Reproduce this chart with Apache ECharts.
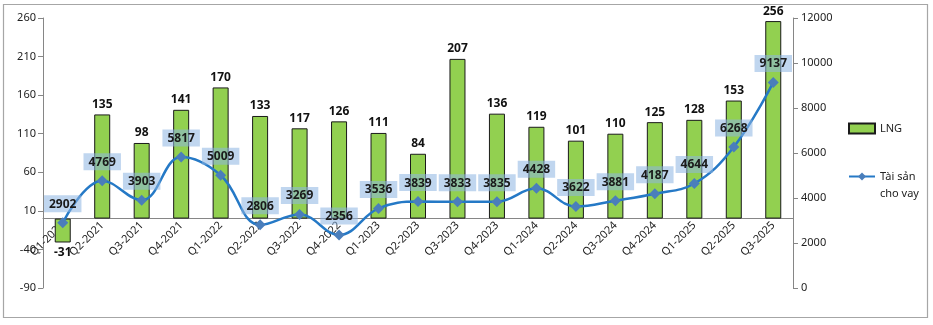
<!DOCTYPE html>
<html><head><meta charset="utf-8">
<script src="https://cdn.jsdelivr.net/npm/echarts@6/dist/echarts.min.js"></script>
<style>html,body{margin:0;padding:0;background:#fff}#c{width:933px;height:325px}</style>
</head><body><div id="c"></div>
<script>
const categories = ['Q1-2021','Q2-2021','Q3-2021','Q4-2021','Q1-2022','Q2-2022','Q3-2022','Q4-2022','Q1-2023','Q2-2023','Q3-2023','Q4-2023','Q1-2024','Q2-2024','Q3-2024','Q4-2024','Q1-2025','Q2-2025','Q3-2025'];
const lngValues = [-31,135,98,141,170,133,117,126,111,84,207,136,119,101,110,125,128,153,256];
const loanValues = [2902,4769,3903,5817,5009,2806,3269,2356,3536,3839,3833,3835,4428,3622,3881,4187,4644,6268,9137];
const leftTicks = {min:-90, max:260, interval:50};
const rightTicks = {min:0, max:12000, interval:2000};
const seriesNames = ['LNG','Tài sản cho vay'];

const FONT = 'Noto Sans';
const GRID = {left:43, right:140, top:18, bottom:37};
const gridH = 325 - GRID.top - GRID.bottom;
const zeroOffset = -gridH * (0 - leftTicks.min) / (leftTicks.max - leftTicks.min);

const chart = echarts.init(document.getElementById('c'), null, {renderer:'canvas'});
chart.setOption({
  animation:false,
  textStyle:{fontFamily:FONT},
  graphic:[{type:'rect', shape:{x:3.5,y:4.5,width:924,height:313}, style:{fill:'none',stroke:'#a6a6a6',lineWidth:1.2}, silent:true}],
  grid:GRID,
  legend:{
    orient:'vertical', left:848, top:120, padding:0, itemGap:14, itemWidth:26, itemHeight:10,
    textStyle:{fontFamily:FONT, fontSize:11, color:'#222', lineHeight:17},
    formatter:n => n === 'Tài sản cho vay' ? ' \nTài sản\ncho vay' : n,
    data:[{name:seriesNames[0], icon:'rect'}, {name:seriesNames[1]}]
  },
  xAxis:{
    type:'category', data:categories, offset:zeroOffset,
    axisLine:{onZero:false, lineStyle:{color:'#868686', width:1}},
    axisTick:{show:false},
    axisLabel:{rotate:45, interval:0, fontFamily:FONT, fontSize:11, color:'#222', margin:5}
  },
  yAxis:[
    {type:'value', min:leftTicks.min, max:leftTicks.max, interval:leftTicks.interval,
     splitLine:{show:false},
     axisLine:{show:true, lineStyle:{color:'#868686'}},
     axisTick:{show:true, length:5, lineStyle:{color:'#868686'}},
     axisLabel:{fontFamily:FONT, fontSize:11, color:'#222', margin:7}},
    {type:'value', min:rightTicks.min, max:rightTicks.max, interval:rightTicks.interval,
     position:'right', splitLine:{show:false},
     axisLine:{show:true, lineStyle:{color:'#868686'}},
     axisTick:{show:true, length:5, lineStyle:{color:'#868686'}},
     axisLabel:{fontFamily:FONT, fontSize:11, color:'#222', margin:8, formatter:v => String(v)}}
  ],
  series:[
    {name:seriesNames[0], type:'bar', yAxisIndex:0, barWidth:16,
     data:lngValues.map(v => ({value:v, label:{position: v < 0 ? 'bottom' : 'top'}})),
     itemStyle:{color:'#92d050', borderColor:'#1a1a1a', borderWidth:1},
     label:{show:true, distance:4, fontFamily:FONT, fontSize:12, fontWeight:'bold', color:'#111'}},
    {name:seriesNames[1], type:'line', yAxisIndex:1, data:loanValues, smooth:0.4,
     symbol:'diamond', symbolSize:11,
     lineStyle:{color:'#2579c6', width:2.5},
     itemStyle:{color:'#4a7ebb'},
     label:{show:true, position:'top', distance:5, fontFamily:FONT, fontSize:12, fontWeight:'bold', color:'#1a1a1a',
       backgroundColor:'rgba(141,180,226,0.55)', padding:[3,5,2,5]},
     z:5}
  ]
});
</script></body></html>
